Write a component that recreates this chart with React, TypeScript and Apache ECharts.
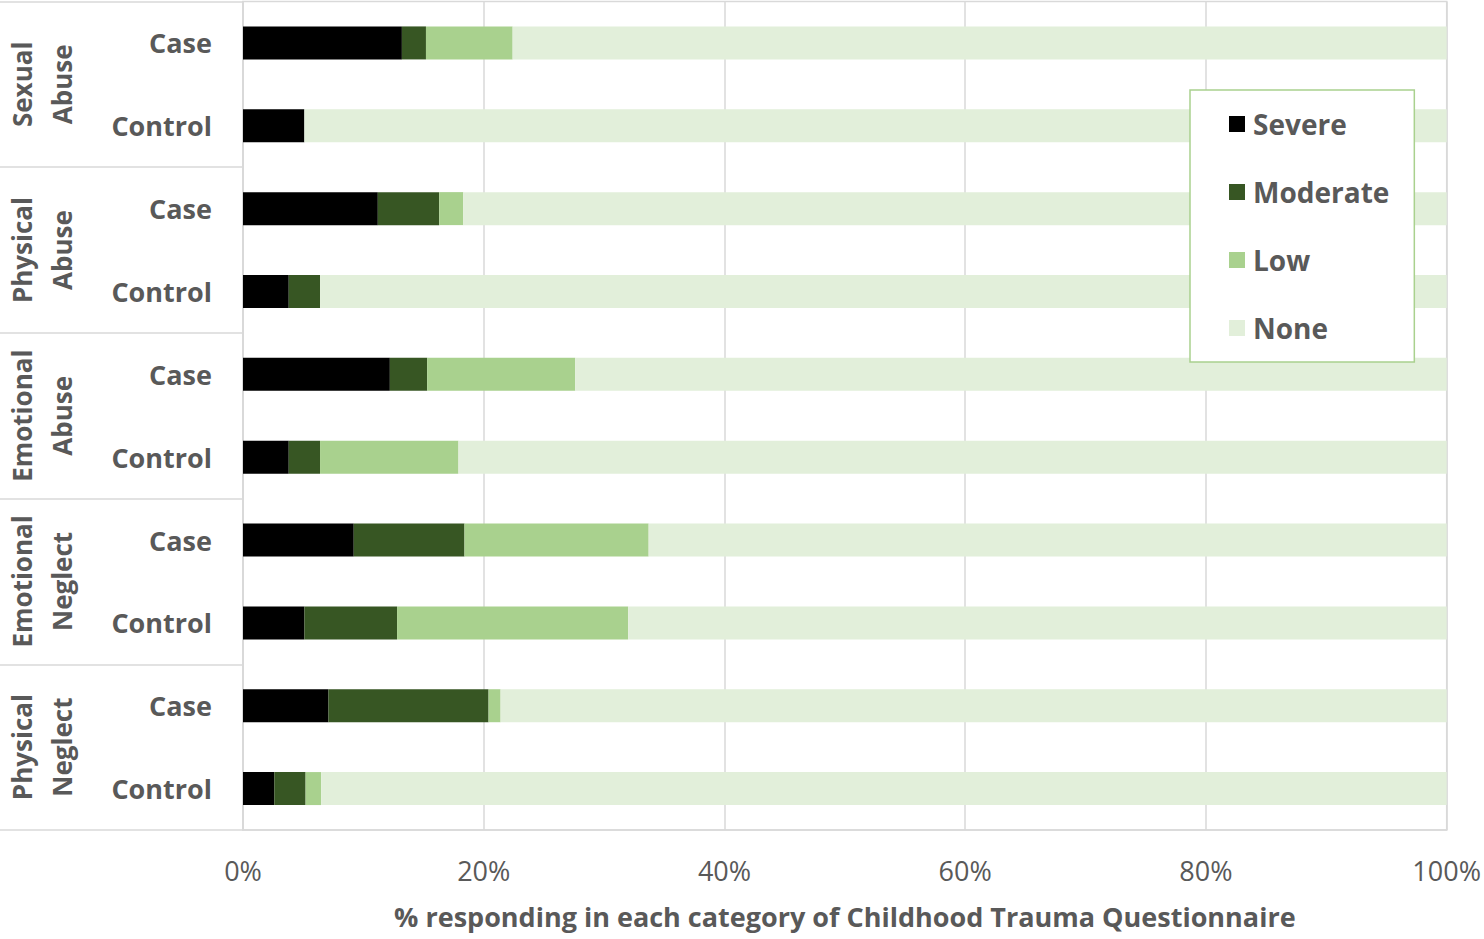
import React, { useEffect, useRef } from "react";
import * as echarts from "echarts";

const rowLabels = ["Case", "Control", "Case", "Control", "Case", "Control", "Case", "Control", "Case", "Control"];
const groupLabels = ["Sexual\nAbuse", "Physical\nAbuse", "Emotional\nAbuse", "Emotional\nNeglect", "Physical\nNeglect"];
const severe = [13.2, 5.1, 11.2, 3.8, 12.2, 3.8, 9.2, 5.1, 7.1, 2.6];
const moderate = [2.0, 0, 5.1, 2.6, 3.1, 2.6, 9.2, 7.7, 13.3, 2.6];
const low = [7.2, 0, 2.0, 0, 12.3, 11.5, 15.3, 19.2, 1.0, 1.3];
const none = [77.6, 94.9, 81.7, 93.6, 72.4, 82.1, 66.3, 68.0, 78.6, 93.5];
const xTicks = [0, 20, 40, 60, 80, 100];
const seriesNames = ["Severe", "Moderate", "Low", "None"];
const seriesColors = ["#000000", "#375623", "#a9d18e", "#e2efda"];
const axisTitle = "% responding in each category of Childhood Trauma Questionnaire";

const FONT = "'Open Sans', 'Noto Sans', sans-serif";
const TEXT = "#595959";
const GRID_LINE = "#d9d9d9";

export default function App() {
  const ref = useRef<HTMLDivElement>(null);
  useEffect(() => {
    if (!ref.current) return;
    const chart = echarts.init(ref.current, undefined, { renderer: "svg" });
    const values = [severe, moderate, low, none];
    chart.setOption({
      animation: false,
      backgroundColor: "#ffffff",
      textStyle: { fontFamily: FONT },
      grid: {
        left: 243,
        right: 37,
        top: 1.5,
        bottom: 109,
        show: true,
        borderColor: GRID_LINE,
        borderWidth: 1.5,
      },
      legend: {
        orient: "vertical",
        left: 1190,
        top: 90,
        data: seriesNames,
        icon: "rect",
        itemWidth: 16,
        itemHeight: 16,
        itemGap: 40,
        padding: [20, 25, 20, 39],
        backgroundColor: "#ffffff",
        borderColor: "#a9d18e",
        borderWidth: 1.5,
        textStyle: {
          fontFamily: FONT,
          fontSize: 28,
          fontWeight: "bold",
          color: TEXT,
          lineHeight: 28,
          padding: [0, 0, 0, 3],
        },
      },
      xAxis: {
        type: "value",
        min: xTicks[0],
        max: xTicks[xTicks.length - 1],
        interval: 20,
        axisLine: { show: true, lineStyle: { color: GRID_LINE, width: 1.5 } },
        axisTick: { show: false },
        splitLine: { show: true, lineStyle: { color: GRID_LINE, width: 1.5 } },
        axisLabel: {
          formatter: "{value}%",
          fontFamily: FONT,
          fontSize: 27,
          color: TEXT,
          margin: 27,
        },
        name: axisTitle,
        nameLocation: "middle",
        nameGap: 73,
        nameTextStyle: { fontFamily: FONT, fontSize: 27, fontWeight: "bold", color: TEXT },
      },
      yAxis: [
        {
          type: "category",
          data: rowLabels,
          inverse: true,
          axisLine: { show: true, lineStyle: { color: GRID_LINE, width: 1.5 } },
          axisTick: { show: false },
          axisLabel: {
            interval: 0,
            margin: 31,
            fontFamily: FONT,
            fontSize: 27,
            fontWeight: "bold",
            color: TEXT,
          },
        },
        {
          type: "category",
          data: groupLabels,
          inverse: true,
          position: "left",
          axisLine: { show: false },
          axisTick: { show: true, length: 243, lineStyle: { color: GRID_LINE, width: 1.5 } },
          axisLabel: {
            interval: 0,
            rotate: 90,
            align: "center",
            verticalAlign: "middle",
            margin: 201,
            lineHeight: 40,
            fontFamily: FONT,
            fontSize: 26,
            fontWeight: "bold",
            color: TEXT,
          },
        },
      ],
      series: seriesNames.map((name, i) => ({
        name,
        type: "bar",
        stack: "total",
        yAxisIndex: 0,
        barWidth: 33,
        itemStyle: { color: seriesColors[i] },
        emphasis: { disabled: true },
        data: values[i],
      })),
    });
    return () => chart.dispose();
  }, []);
  return (
    <div
      ref={ref}
      style={{ position: "fixed", left: 0, top: 0, width: 1484, height: 939 }}
    />
  );
}
